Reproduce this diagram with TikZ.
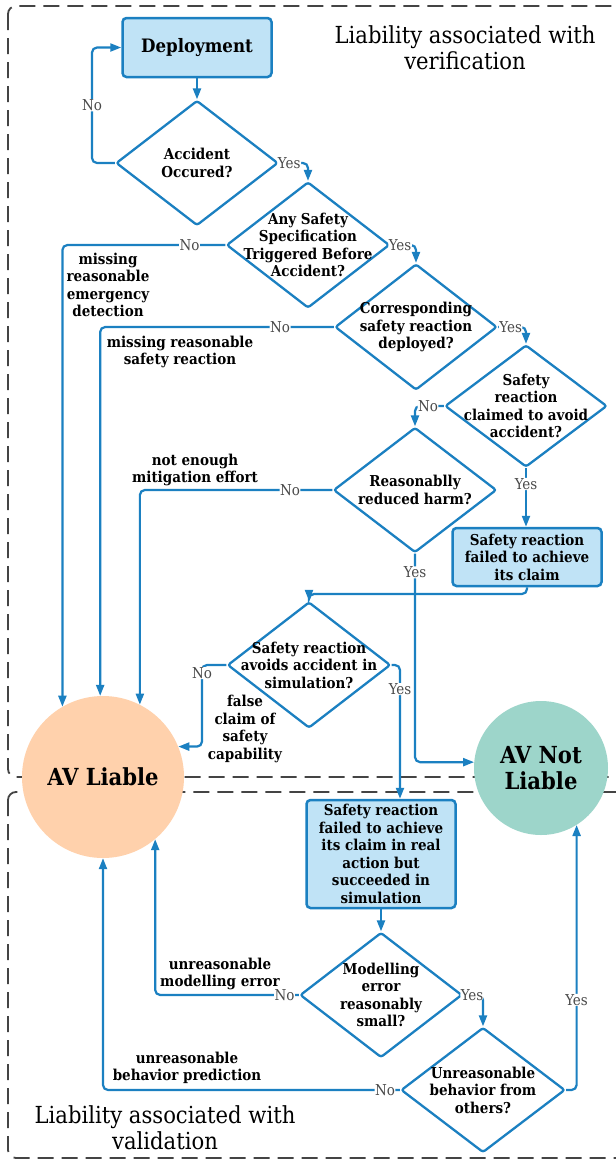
\documentclass[tikz,border=0pt]{standalone}
\usepackage{fontspec}
\setmainfont{DejaVu Serif Condensed}
\usetikzlibrary{shapes.geometric,arrows.meta,calc}
\definecolor{lineblue}{HTML}{1B80C1}
\definecolor{boxblue}{HTML}{C0E3F6}
\definecolor{peach}{HTML}{FFD1AC}
\definecolor{teal}{HTML}{9DD5CA}
\definecolor{framegray}{HTML}{444444}
\definecolor{lblgray}{HTML}{4A4A4A}
\begin{document}
\begin{tikzpicture}[x=1pt,y=-1pt,
  frame/.style={draw=framegray, line width=1.8pt, dash pattern=on 16pt off 8pt, rounded corners=8pt},
  dia/.style={diamond, draw=lineblue, line width=2.3pt, fill=white, inner sep=0pt, minimum width=162pt, minimum height=125pt, rounded corners=2.5pt},
  dtext/.style={align=center, inner sep=0pt, font=\bfseries\fontsize{15}{17.5}\selectfont},
  box/.style={draw=lineblue, fill=boxblue, line width=2.5pt, rounded corners=4pt, minimum width=149pt, minimum height=58pt, align=center, inner sep=0pt, font=\bfseries\fontsize{15}{17.5}\selectfont},
  note/.style={align=center, inner sep=0pt, font=\bfseries\fontsize{15}{17.5}\selectfont},
  conn/.style={draw=lineblue, line width=2.2pt, rounded corners=5pt, -{Triangle[length=11pt,width=8pt]}},
  lbl/.style={fill=white, inner sep=0.5pt, text=lblgray, font=\fontsize{15}{17}\selectfont},
  endnode/.style={circle, inner sep=0pt, align=center, font=\bfseries\fontsize{23.5}{26}\selectfont},
  title/.style={align=center, inner sep=0pt, font=\fontsize{23.5}{26}\selectfont}
]
\useasboundingbox (0,0) rectangle (616,1160);
\fill[white] (0,0) rectangle (616,1160);
% frames
\draw[frame] (8,6) rectangle (640,777);
\draw[frame] (8,792) rectangle (640,1158);
\node[title] (t1) at (465,48) {Liability associated with\\verification};
\node[title] (t2) at (165,1128) {Liability associated with\\validation};

% end circles
\node[endnode, fill=peach, minimum size=162pt] (liable) at (103,777) {AV Liable};
\node[endnode, fill=teal, minimum size=134pt] (notl) at (541,768) {AV Not\\Liable};

% boxes
\node[box, font=\bfseries\fontsize{18.5}{20}\selectfont, minimum height=59pt] (dep) at (197,47.5) {Deployment};
\node[box] (box1) at (527,557) {Safety reaction\\failed to achieve\\its claim};
\node[box, minimum height=108pt] (box2) at (381,854) {Safety reaction\\failed to achieve\\its claim in real\\action but\\succeeded in\\simulation};

% diamonds
\node[dia] (d1) at (197,163) {};
\node[dtext] (d1t) at (d1) {Accident\\Occured?};
\node[dia, minimum width=163pt, minimum height=126pt] (d2) at (308,245) {};
\node[dtext] (d2t) at (d2) {Any Safety\\Specification\\Triggered Before\\Accident?};
\node[dia, minimum height=126pt] (d3) at (416,327) {};
\node[dtext] (d3t) at (d3) {Corresponding\\safety reaction\\deployed?};
\node[dia, minimum height=122pt] (d4) at (526,406) {};
\node[dtext] (d4t) at (d4) {Safety\\reaction\\claimed to avoid\\accident?};
\node[dia, minimum width=163pt] (d5) at (415,490) {};
\node[dtext] (d5t) at (d5) {Reasonablly\\reduced harm?};
\node[dia, minimum width=163pt, minimum height=126pt] (d6) at (309,665) {};
\node[dtext] (d6t) at (d6) {Safety reaction\\avoids accident in\\simulation?};
\node[dia] (d7) at (381,995) {};
\node[dtext] (d7t) at (d7) {Modelling\\error\\reasonably\\small?};
\node[dia, minimum width=164pt] (d8) at (483,1090) {};
\node[dtext] (d8t) at (d8) {Unreasonable\\behavior from\\others?};

% notes
\node[note] (n1) at (108,285) {missing\\reasonable\\emergency\\detection};
\node[note] (n2) at (180,352) {missing reasonable\\safety reaction};
\node[note] (n3) at (195,470) {not enough\\mitigation effort};
\node[note] (n4) at (245,729) {false\\claim of\\safety\\capability};
\node[note] (n5) at (220,974) {unreasonable\\modelling error};
\node[note] (n6) at (187,1068) {unreasonable\\behavior prediction};

% connectors
\draw[conn] (dep.south) -- (d1.north);
\draw[conn] (d1.west) -- (d1.west -| 92,0) -- node[lbl]{No} (dep.west -| 92,0) -- (dep.west);
\draw[conn] (d1.east) -- node[lbl,pos=0.35]{Yes} (d1.east -| d2.north) -- (d2.north);
\draw[conn] (d2.west) -- node[lbl,pos=0.22]{No} (d2.west -| liable.120) -- (liable.120);
\draw[conn] (d2.east) -- node[lbl,pos=0.37]{Yes} (d2.east -| d3.north) -- (d3.north);
\draw[conn] (d3.west) -- node[lbl,pos=0.23]{No} (d3.west -| liable.92) -- (liable.92);
\draw[conn] (d3.east) -- node[lbl,pos=0.45]{Yes} (d3.east -| d4.north) -- (d4.north);
\draw[conn] (d4.west) -- node[lbl,pos=0.55]{No} (d4.west -| d5.north) -- (d5.north);
\draw[conn] (d4.south) -- node[lbl,pos=0.27]{Yes} (d4.south |- box1.north);
\draw[conn] (d5.west) -- node[lbl,pos=0.22]{No} (d5.west -| liable.63) -- (liable.63);
\draw[conn] (d5.south) -- node[lbl,pos=0.09]{Yes} (d5.south |- notl.175) -- (notl.175);
\draw[conn] (box1.south) -- (box1.south |- 0,594) -- (d6.north |- 0,594) [sharp corners] -- (d6.north);
\draw[conn] (d6.west) -- (d6.west -| 202,0) -- node[lbl,pos=0.1]{No} (liable.22 -| 202,0) -- (liable.22);
\draw[conn] (d6.east) -- (d6.east -| 400,0) -- node[lbl,pos=0.18]{Yes} (box2.north -| 400,0);
\draw[conn] (box2.south) -- (d7.north);
\draw[conn] (d7.west) -- node[lbl,pos=0.1]{No} (d7.west -| liable.310) -- (liable.310);
\draw[conn] (d7.east) -- node[lbl,pos=0.45]{Yes} (d7.east -| d8.north) -- (d8.north);
\draw[conn] (d8.west) -- node[lbl,pos=0.05]{No} (d8.west -| liable.south) -- (liable.south);
\draw[conn] (d8.east) -- (d8.east -| notl.302) -- node[lbl,pos=0.34]{Yes} (notl.302);
\end{tikzpicture}
\end{document}
